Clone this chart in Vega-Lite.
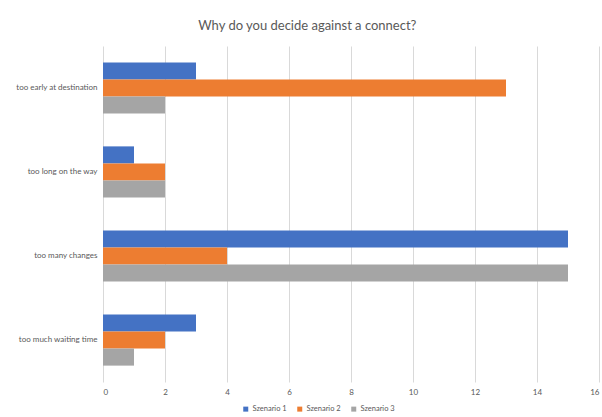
{
  "$schema": "https://vega.github.io/schema/vega-lite/v6.json",
  "width": 496,
  "height": 336,
  "autosize": {"type": "none"},
  "padding": {"left": 103, "top": 46, "right": 3, "bottom": 35},
  "background": "white",
  "title": {
    "text": "Why do you decide against a connect?",
    "font": "Lato",
    "fontSize": 13,
    "fontWeight": "normal",
    "color": "#595959",
    "anchor": "middle",
    "frame": "bounds",
    "offset": 13
  },
  "data": {
    "values": [
      {"reason": "too early at destination", "scenario": "Szenario 1", "count": 3},
      {"reason": "too early at destination", "scenario": "Szenario 2", "count": 13},
      {"reason": "too early at destination", "scenario": "Szenario 3", "count": 2},
      {"reason": "too long on the way", "scenario": "Szenario 1", "count": 1},
      {"reason": "too long on the way", "scenario": "Szenario 2", "count": 2},
      {"reason": "too long on the way", "scenario": "Szenario 3", "count": 2},
      {"reason": "too many changes", "scenario": "Szenario 1", "count": 15},
      {"reason": "too many changes", "scenario": "Szenario 2", "count": 4},
      {"reason": "too many changes", "scenario": "Szenario 3", "count": 15},
      {"reason": "too much waiting time", "scenario": "Szenario 1", "count": 3},
      {"reason": "too much waiting time", "scenario": "Szenario 2", "count": 2},
      {"reason": "too much waiting time", "scenario": "Szenario 3", "count": 1}
    ]
  },
  "mark": {"type": "bar"},
  "encoding": {
    "y": {
      "field": "reason",
      "type": "nominal",
      "sort": null,
      "title": null,
      "scale": {"paddingInner": 0.39, "paddingOuter": 0.195},
      "axis": {
        "domain": false,
        "ticks": false,
        "labelPadding": 6,
        "labelFont": "Lato",
        "labelFontSize": 8,
        "labelColor": "#595959"
      }
    },
    "yOffset": {"field": "scenario", "type": "nominal", "sort": null},
    "x": {
      "field": "count",
      "type": "quantitative",
      "title": null,
      "scale": {"domain": [0, 16]},
      "axis": {
        "values": [0, 2, 4, 6, 8, 10, 12, 14, 16],
        "domain": false,
        "ticks": false,
        "gridColor": "#d9d9d9",
        "labelFont": "Lato",
        "labelFontSize": 8,
        "labelColor": "#595959",
        "labelPadding": 6
      }
    },
    "color": {
      "field": "scenario",
      "type": "nominal",
      "title": null,
      "scale": {
        "domain": ["Szenario 1", "Szenario 2", "Szenario 3"],
        "range": ["#4472C4", "#ED7D31", "#A5A5A5"]
      },
      "legend": {
        "orient": "none",
        "legendX": 139,
        "legendY": 359,
        "direction": "horizontal",
        "symbolType": "square",
        "symbolSize": 25,
        "labelFont": "Lato",
        "labelFontSize": 7.5,
        "labelColor": "#595959",
        "labelOffset": 3,
        "columnPadding": 9
      }
    }
  },
  "config": {"view": {"stroke": null}}
}
